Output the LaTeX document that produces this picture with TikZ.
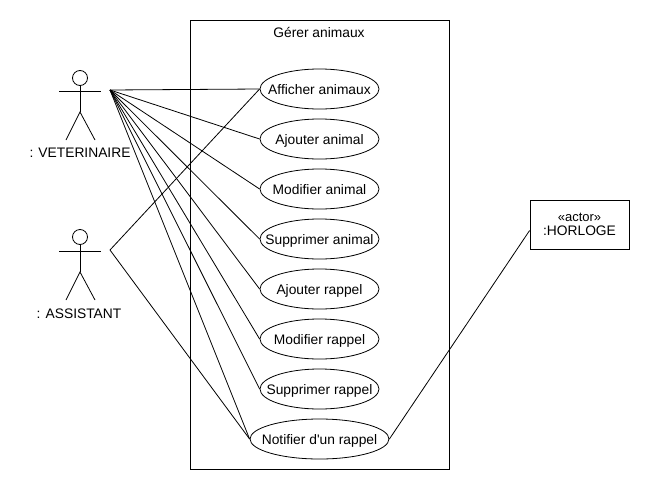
\documentclass[tikz,border=0pt]{standalone}
\usepackage{fontspec}
\setmainfont{Liberation Sans}
\usetikzlibrary{shapes.geometric}
\tikzset{
    lbl/.style={font=\fontsize{13.8}{16}\selectfont, inner sep=0pt},
    usecase/.style={draw, ellipse, minimum width=119pt, minimum height=40pt, inner xsep=-14pt, inner ysep=-4pt, text height=12pt, text depth=2pt, fill=white},
}
\begin{document}
\begin{tikzpicture}[x=1pt, y=-1pt, line width=0.8pt]
    \useasboundingbox (0,0) rectangle (650,490);

    \node[draw, minimum width=259pt, minimum height=449pt, inner sep=0pt] (system) at (319.5,244.5) {};
    \node[lbl] (title) at (319,32) {Gérer animaux};

    \node[lbl, usecase] (afficher)  at (319.5,89)  {Afficher animaux};
    \node[lbl, usecase] (ajouterA)  at (319.5,139) {Ajouter animal};
    \node[lbl, usecase] (modifierA) at (319.5,189) {Modifier animal};
    \node[lbl, usecase] (supprimerA) at (319.5,239) {Supprimer animal};
    \node[lbl, usecase] (ajouterR)  at (319.5,289) {Ajouter rappel};
    \node[lbl, usecase] (modifierR) at (319.5,339) {Modifier rappel};
    \node[lbl, usecase] (supprimerR) at (319.5,389) {Supprimer rappel};
    \node[lbl, usecase, minimum width=139pt] (notifier) at (319.5,439) {Notifier d\textquotesingle un rappel};

    \node[draw, lbl, minimum width=99pt, minimum height=49pt, align=center] (horloge) at (579.5,224.5)
        {{\fontsize{13}{15}\selectfont «actor»}\\[-2pt]:HORLOGE};

    % actors
    \draw (80,78) circle(7.5);
    \draw (80,85.5) -- (80,112);
    \draw (59,91) -- (101,91);
    \draw (66,140) -- (80,112) -- (95,140);
    \node[lbl] (veterinaire) at (80,153) {: VETERINAIRE};

    \draw (80,237) circle(7.5);
    \draw (80,244.5) -- (80,272);
    \draw (59,251) -- (101,251);
    \draw (66,300) -- (80,272) -- (95,300);
    \node[lbl] (assistant) at (79,313.5) {: ASSISTANT};

    \coordinate (vet) at (110,90);
    \coordinate (ass) at (110,250);

    \draw (vet) -- (afficher.west);
    \draw (vet) -- (ajouterA.west);
    \draw (vet) -- (modifierA.west);
    \draw (vet) -- (supprimerA.west);
    \draw (vet) -- (ajouterR.west);
    \draw (vet) -- (modifierR.west);
    \draw (vet) -- (supprimerR.west);
    \draw (vet) -- (notifier.west);

    \draw (ass) -- (afficher.west);
    \draw (ass) -- (notifier.west);

    \draw (notifier.east) -- ([yshift=-6pt]horloge.west);
\end{tikzpicture}
\end{document}
